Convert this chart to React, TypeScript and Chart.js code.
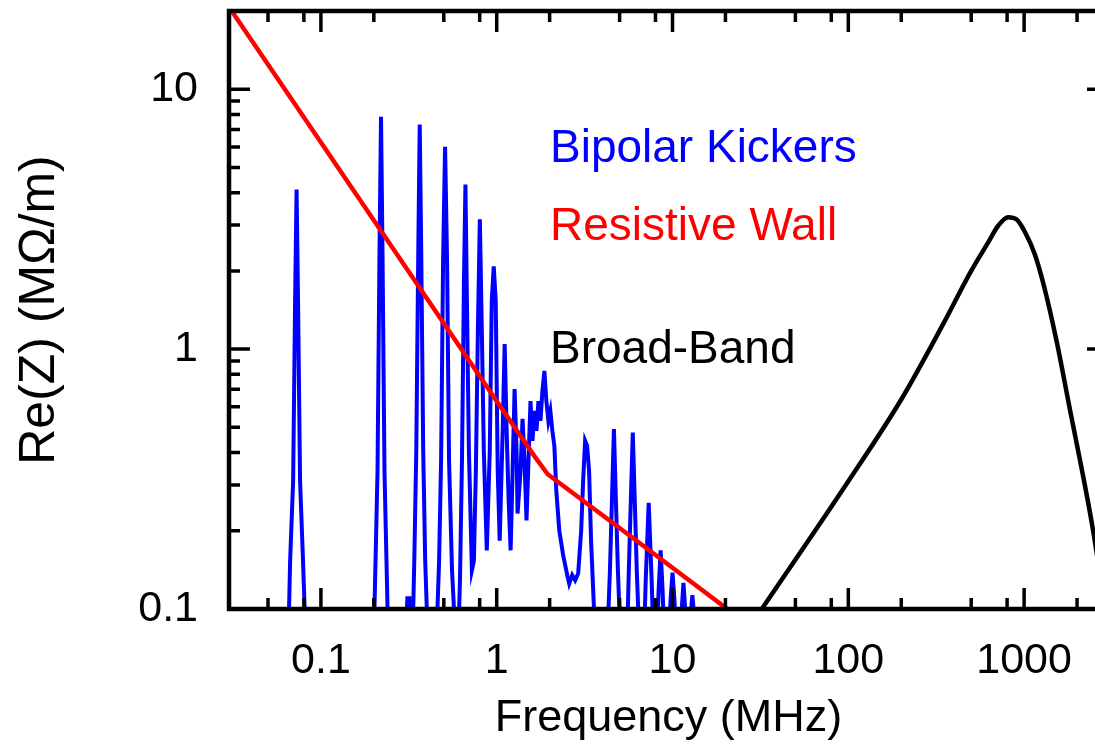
import React, { useEffect, useRef } from "react";
import { Chart, registerables } from "chart.js";

Chart.register(...registerables);

// ---------------- data ----------------
// Bipolar kickers: Re(Z) in MOhm/m versus frequency in MHz
const kickerFreq = [
  0.0651, 0.0668, 0.0695, 0.0713, 0.0727, 0.0741, 0.0761, 0.0791, 0.0823,
  0.1992, 0.2045, 0.2099, 0.2154, 0.2197, 0.224, 0.2299, 0.236, 0.2422,
  0.3021, 0.3101, 0.3183, 0.3267,
  0.331, 0.3397, 0.3487, 0.3579, 0.3648, 0.372, 0.3818, 0.3919, 0.4075,
  0.4519, 0.4701, 0.4826, 0.4953, 0.5084, 0.5218, 0.5356, 0.5569, 0.5866,
  0.6021, 0.618, 0.6343, 0.651, 0.6638, 0.6769, 0.6947, 0.7224,
  0.7414, 0.761, 0.7811, 0.8017, 0.8229, 0.8446, 0.878,
  0.913, 0.9371, 0.9618, 0.9871, 1.0131, 1.0397,
  1.0812, 1.1096, 1.1388, 1.1689, 1.1997,
  1.2312, 1.2637, 1.297, 1.3139,
  1.3662, 1.4024, 1.4393, 1.4772,
  1.5162, 1.5563, 1.5973, 1.6395, 1.6827, 1.727, 1.7727, 1.8195, 1.8672, 1.9166,
  1.9669, 2.019, 2.0723, 2.1269, 2.1827, 2.2699, 2.391, 2.5183, 2.5847, 2.6877,
  2.7946, 2.9061, 3.0217, 3.1012, 3.1829, 3.2666, 3.3528, 3.441, 3.5783, 3.7204,
  4.2384, 4.4058, 4.5223, 4.6416, 4.7643, 4.8896, 5.0837,
  5.497, 5.6422, 5.7911, 5.9429, 6.0995, 6.2603, 6.5099,
  6.8586, 7.0392, 7.3187, 7.61, 7.8105,
  8.121, 8.335, 8.555, 8.7805, 9.012,
  9.4933, 9.7432, 10.0, 10.26, 10.53,
  11.1, 11.32, 11.54, 11.77, 12.0,
  12.48, 12.72, 12.97, 13.23, 13.49,
];
const kickerZ = [
  0.07, 0.153, 0.311, 1.53, 4.11, 1.53, 0.311, 0.153, 0.07,
  0.07, 0.153, 0.34, 2.38, 7.84, 2.38, 0.34, 0.153, 0.07,
  0.07, 0.11, 0.11, 0.07,
  0.07, 0.153, 0.406, 2.38, 7.31, 2.38, 0.406, 0.153, 0.07,
  0.07, 0.153, 0.372, 2.18, 6.01, 2.18, 0.372, 0.141, 0.07,
  0.07, 0.129, 0.372, 1.82, 4.3, 1.53, 0.406, 0.141,
  0.153, 0.34, 1.17, 3.16, 1.17, 0.406, 0.168,
  0.406, 1.53, 2.08, 1.53, 0.34, 0.183,
  0.485, 1.045, 0.485, 0.261, 0.168,
  0.34, 0.702, 0.406, 0.233,
  0.34, 0.539, 0.372, 0.219,
  0.372, 0.631, 0.444, 0.578, 0.485, 0.631, 0.53, 0.69, 0.824, 0.631,
  0.53, 0.578, 0.485, 0.425, 0.285, 0.2, 0.16, 0.135, 0.125, 0.135,
  0.129, 0.137, 0.2, 0.311, 0.444, 0.425, 0.34, 0.183, 0.0987, 0.07,
  0.07, 0.141, 0.261, 0.493, 0.261, 0.141, 0.07,
  0.07, 0.141, 0.261, 0.477, 0.261, 0.141, 0.07,
  0.07, 0.129, 0.256, 0.129, 0.07,
  0.07, 0.118, 0.168, 0.118, 0.07,
  0.07, 0.108, 0.138, 0.108, 0.07,
  0.07, 0.103, 0.126, 0.103, 0.07,
  0.07, 0.097, 0.113, 0.097, 0.07,
];

// Resistive wall
const wallFreq = [0.03, 1.0, 1.65, 1.95, 5.0, 20.5, 25];
const wallZ = [20.7, 0.63, 0.385, 0.33, 0.205, 0.1, 0.09];

// Broad-band resonator
const bbFreq = [28, 32.2, 100, 200, 340, 500, 626, 713, 812, 904, 1009, 1150, 1297, 1536, 1827, 2175, 2454, 3000];
const bbZ = [0.087, 0.1, 0.31, 0.64, 1.22, 2.0, 2.58, 2.99, 3.22, 3.16, 2.83, 2.32, 1.75, 1.06, 0.58, 0.32, 0.205, 0.085];

// axes
const xMin = 0.03;
const xMax = 3000;
const yMin = 0.1;
const yMax = 20;
const xTickValues = [0.1, 1, 10, 100, 1000];
const xTickLabels = ["0.1", "1", "10", "100", "1000"];
const yTickValues = [0.1, 1, 10];
const yTickLabels = ["0.1", "1", "10"];
const xMinorTicks = [0.05, 0.08, 0.2, 0.5, 0.8, 2, 5, 8, 20, 50, 80, 200, 500, 800, 2000];
const yMinorTicks = [0.2, 0.3, 0.4, 0.5, 0.6, 0.7, 0.8, 0.9, 2, 3, 4, 5, 6, 7, 8, 9];

const xTitle = "Frequency (MHz)";
const yTitle = "Re(Z) (MΩ/m)";
const annotationTexts = ["Bipolar Kickers", "Resistive Wall", "Broad-Band"];
const annotationColors = ["#0000ff", "#ff0000", "#000000"];

const FONT = "'Liberation Sans', Arial, Helvetica, sans-serif";

function toPoints(xs: number[], ys: number[]) {
  return xs.map((x, i) => ({ x, y: ys[i] }));
}

const framePlugin = {
  id: "frameTicks",
  afterDatasetsDraw(chart: any) {
    const { ctx, chartArea } = chart;
    const { left, right, top, bottom } = chartArea;
    const xs = chart.scales.x;
    const ys = chart.scales.y;
    ctx.save();
    ctx.strokeStyle = "#000";
    ctx.lineCap = "butt";
    ctx.lineWidth = 3.5;
    const majorLen = 21;
    const minorLen = 11;
    const drawX = (v: number, len: number) => {
      const p = xs.getPixelForValue(v);
      ctx.beginPath();
      ctx.moveTo(p, bottom);
      ctx.lineTo(p, bottom - len);
      ctx.moveTo(p, top);
      ctx.lineTo(p, top + len);
      ctx.stroke();
    };
    const drawY = (v: number, len: number) => {
      const p = ys.getPixelForValue(v);
      ctx.beginPath();
      ctx.moveTo(left, p);
      ctx.lineTo(left + len, p);
      ctx.moveTo(right, p);
      ctx.lineTo(right - len, p);
      ctx.stroke();
    };
    xTickValues.forEach((v) => drawX(v, majorLen));
    xMinorTicks.forEach((v) => drawX(v, minorLen));
    yTickValues.forEach((v) => drawY(v, majorLen));
    yMinorTicks.forEach((v) => drawY(v, minorLen));
    ctx.lineWidth = 4.5;
    ctx.strokeRect(left, top, right - left, bottom - top);

    // annotations
    ctx.font = `46px ${FONT}`;
    ctx.textAlign = "left";
    ctx.textBaseline = "alphabetic";
    const baselines = [151, 229, 352];
    annotationTexts.forEach((t, i) => {
      ctx.fillStyle = annotationColors[i];
      ctx.fillText(t, left + 321, top + baselines[i]);
    });
    ctx.restore();
  },
};

export default function App() {
  const canvasRef = useRef<HTMLCanvasElement | null>(null);

  useEffect(() => {
    const canvas = canvasRef.current;
    if (!canvas) return;
    const chart = new Chart(canvas, {
      type: "line",
      data: {
        datasets: [
          {
            label: "Resistive Wall",
            data: toPoints(wallFreq, wallZ),
            borderColor: "#ff0000",
            borderWidth: 4.5,
            pointRadius: 0,
            tension: 0,
            clip: 0,
            order: 0,
          },
          {
            label: "Broad-Band",
            data: toPoints(bbFreq, bbZ),
            borderColor: "#000000",
            borderWidth: 4.5,
            pointRadius: 0,
            cubicInterpolationMode: "monotone",
            clip: 0,
            order: 1,
          },
          {
            label: "Bipolar Kickers",
            data: toPoints(kickerFreq, kickerZ),
            borderColor: "#0000ff",
            borderWidth: 4,
            pointRadius: 0,
            tension: 0,
            clip: 0,
            order: 2,
          },
        ],
      },
      options: {
        animation: false,
        responsive: false,
        devicePixelRatio: 1,
        layout: { padding: { left: 0, right: 22, top: 11, bottom: 0 } },
        plugins: {
          legend: { display: false },
          tooltip: { enabled: false },
        },
        scales: {
          x: {
            type: "logarithmic",
            min: xMin,
            max: xMax,
            grid: { display: false, drawTicks: false },
            border: { display: false },
            afterBuildTicks: (scale: any) => {
              scale.ticks = xTickValues.map((v) => ({ value: v }));
            },
            afterFit: (scale: any) => {
              scale.height = 141;
              scale.paddingLeft = 0;
              scale.paddingRight = 0;
              scale.paddingTop = 0;
              scale.paddingBottom = 0;
            },
            ticks: {
              autoSkip: false,
              maxRotation: 0,
              padding: 26,
              color: "#000",
              font: { family: FONT, size: 43 },
              callback: (v: any) => {
                const i = xTickValues.indexOf(Number(v));
                return i >= 0 ? xTickLabels[i] : "";
              },
            },
            title: {
              display: true,
              text: xTitle,
              color: "#000",
              font: { family: FONT, size: 45 },
              padding: { top: 0, bottom: 4 },
            },
          },
          y: {
            type: "logarithmic",
            min: yMin,
            max: yMax,
            grid: { display: false, drawTicks: false },
            border: { display: false },
            afterBuildTicks: (scale: any) => {
              scale.ticks = yTickValues.map((v) => ({ value: v }));
            },
            afterFit: (scale: any) => {
              scale.width = 229;
              scale.paddingLeft = 0;
              scale.paddingRight = 0;
              scale.paddingTop = 0;
              scale.paddingBottom = 0;
            },
            ticks: {
              autoSkip: false,
              padding: 31,
              color: "#000",
              font: { family: FONT, size: 43 },
              callback: (v: any) => {
                const i = yTickValues.indexOf(Number(v));
                return i >= 0 ? yTickLabels[i] : "";
              },
            },
            title: {
              display: true,
              text: yTitle,
              color: "#000",
              font: { family: FONT, size: 50 },
              padding: { top: 10, bottom: 0 },
            },
          },
        },
      },
      plugins: [framePlugin],
    });
    return () => chart.destroy();
  }, []);

  return (
    <div
      style={{
        position: "fixed",
        left: 0,
        top: 0,
        width: 1095,
        height: 750,
        overflow: "hidden",
        background: "#ffffff",
      }}
    >
      <canvas
        ref={canvasRef}
        width={1130}
        height={750}
        style={{ display: "block", width: 1130, height: 750 }}
      />
    </div>
  );
}
